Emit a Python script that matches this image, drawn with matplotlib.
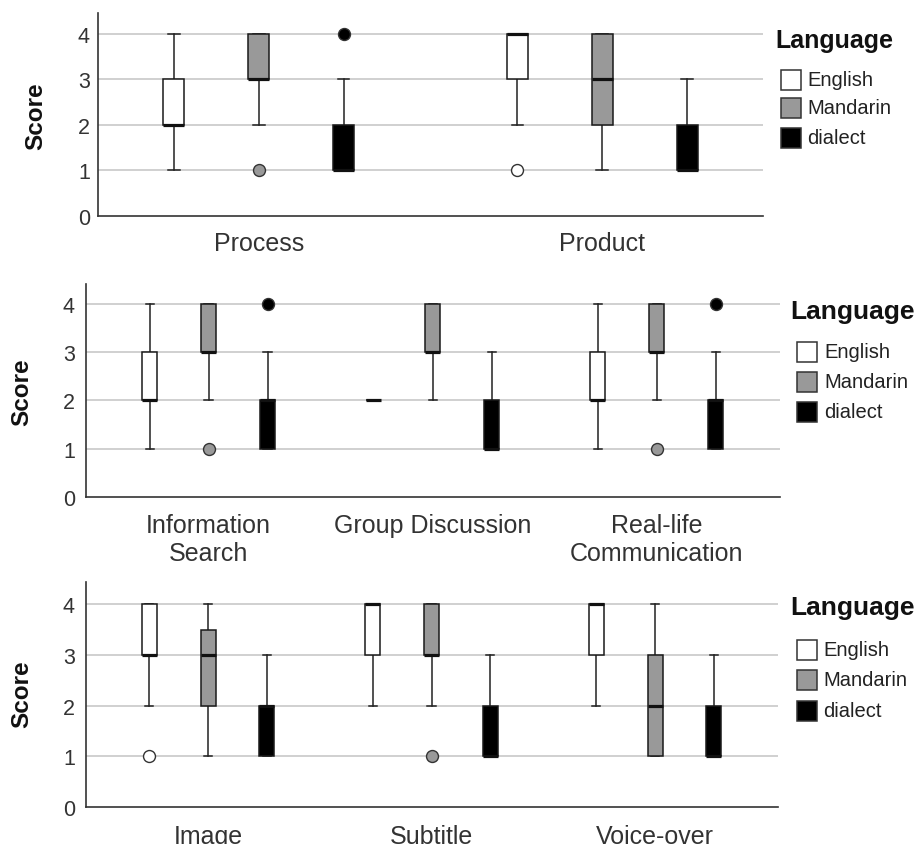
import matplotlib
matplotlib.use("Agg")
import matplotlib.pyplot as plt
from matplotlib.patches import Rectangle

plt.rcParams['font.family'] = ['Liberation Sans', 'DejaVu Sans']

W, H = 918, 845

# ---------------- data ----------------
languages = ['English', 'Mandarin', 'dialect']
lang_colors = ['#ffffff', '#999999', '#000000']

categories1 = ['Process', 'Product']
categories2 = ['Information\nSearch', 'Group Discussion', 'Real-life\nCommunication']
categories3 = ['Image', 'Subtitle', 'Voice-over']

# panel 1 (Process / Product)
p1_q1     = {'English': [2, 3], 'Mandarin': [3, 2], 'dialect': [1, 1]}
p1_med    = {'English': [2, 4], 'Mandarin': [3, 3], 'dialect': [1, 1]}
p1_q3     = {'English': [3, 4], 'Mandarin': [4, 4], 'dialect': [2, 2]}
p1_lo     = {'English': [1, 2], 'Mandarin': [2, 1], 'dialect': [1, 1]}
p1_hi     = {'English': [4, 4], 'Mandarin': [4, 4], 'dialect': [3, 3]}
p1_fliers = {'English': [[], [1]], 'Mandarin': [[1], []], 'dialect': [[4], []]}

# panel 2 (Information Search / Group Discussion / Real-life Communication)
p2_q1     = {'English': [2, 2, 2], 'Mandarin': [3, 3, 3], 'dialect': [1, 1, 1]}
p2_med    = {'English': [2, 2, 2], 'Mandarin': [3, 3, 3], 'dialect': [2, 1, 2]}
p2_q3     = {'English': [3, 2, 3], 'Mandarin': [4, 4, 4], 'dialect': [2, 2, 2]}
p2_lo     = {'English': [1, 2, 1], 'Mandarin': [2, 2, 2], 'dialect': [1, 1, 1]}
p2_hi     = {'English': [4, 2, 4], 'Mandarin': [4, 4, 4], 'dialect': [3, 3, 3]}
p2_fliers = {'English': [[], [], []], 'Mandarin': [[1], [], [1]], 'dialect': [[4], [], [4]]}

# panel 3 (Image / Subtitle / Voice-over)
p3_q1     = {'English': [3, 3, 3], 'Mandarin': [2, 3, 1], 'dialect': [1, 1, 1]}
p3_med    = {'English': [3, 4, 4], 'Mandarin': [3, 3, 2], 'dialect': [2, 1, 1]}
p3_q3     = {'English': [4, 4, 4], 'Mandarin': [3.5, 4, 3], 'dialect': [2, 2, 2]}
p3_lo     = {'English': [2, 2, 2], 'Mandarin': [1, 2, 1], 'dialect': [1, 1, 1]}
p3_hi     = {'English': [4, 4, 4], 'Mandarin': [4, 4, 4], 'dialect': [3, 3, 3]}
p3_fliers = {'English': [[1], [], []], 'Mandarin': [[], [1], []], 'dialect': [[], [], []]}

yticks = [0, 1, 2, 3, 4]
ylabel = 'Score'
legend_title = 'Language'

# ---------------- drawing ----------------
fig = plt.figure(figsize=(W / 100, H / 100), dpi=100)


def ax_rect(left, right, top, bottom):
    return [left / W, 1 - bottom / H, (right - left) / W, (bottom - top) / H]


def draw_panel(rect, cats, q1, med, q3, lo, hi, fliers, offset, width, xlim, ytop,
               ypad, xpad, ylab_xy, leg):
    ax = fig.add_axes(rect)
    for j, lang in enumerate(languages):
        stats = []
        for i in range(len(cats)):
            stats.append(dict(q1=q1[lang][i], med=med[lang][i], q3=q3[lang][i],
                              whislo=lo[lang][i], whishi=hi[lang][i],
                              fliers=fliers[lang][i]))
        pos = [i + (j - 1) * offset for i in range(len(cats))]
        ax.bxp(stats, positions=pos, widths=width, capwidths=width * 0.55,
               patch_artist=True, showfliers=True, manage_ticks=False,
               boxprops=dict(facecolor=lang_colors[j], edgecolor='#1a1a1a',
                             linewidth=1.1, zorder=3),
               medianprops=dict(color='#111111', linewidth=2.3,
                                solid_capstyle='butt', zorder=4),
               whiskerprops=dict(color='#222222', linewidth=1.1, zorder=2),
               capprops=dict(color='#222222', linewidth=1.1, zorder=2),
               flierprops=dict(marker='o', markerfacecolor=lang_colors[j],
                               markeredgecolor='#333333', markeredgewidth=1.0,
                               markersize=8.6, linestyle='none', zorder=4))
    ax.set_xlim(*xlim)
    ax.set_ylim(0, ytop)
    ax.set_yticks(yticks)
    ax.set_xticks(range(len(cats)))
    ax.set_xticklabels(cats, fontsize=18, color='#333333', linespacing=1.2)
    ax.tick_params(axis='y', length=0, pad=ypad, labelsize=15.5, labelcolor='#333333')
    ax.tick_params(axis='x', length=0, pad=xpad)
    for y in yticks[1:]:
        ax.axhline(y, color='#c4c4c4', linewidth=1.1, zorder=0)
    for s in ['top', 'right']:
        ax.spines[s].set_visible(False)
    for s in ['left', 'bottom']:
        ax.spines[s].set_color('#333333')
        ax.spines[s].set_linewidth(1.2)
    fig.text(ylab_xy[0] / W, 1 - ylab_xy[1] / H, ylabel, rotation=90,
             ha='center', va='center', fontsize=17.5, fontweight='bold', color='#111111')
    # legend
    tx, ty, tsize, px, rows, txl = leg
    fig.text(tx / W, 1 - ty / H, legend_title, ha='left', va='center',
             fontsize=tsize, fontweight='bold', color='#111111')
    for j, lang in enumerate(languages):
        cy = rows[j]
        fig.patches.append(Rectangle((px / W, 1 - (cy + 10) / H), 20 / W, 20 / H,
                                     transform=fig.transFigure, facecolor=lang_colors[j],
                                     edgecolor='#333333', linewidth=1.1))
        fig.text(txl / W, 1 - cy / H, lang, ha='left', va='center',
                 fontsize=14.5, color='#222222')
    return ax


draw_panel(ax_rect(98, 763, 14, 217), categories1,
           p1_q1, p1_med, p1_q3, p1_lo, p1_hi, p1_fliers,
           offset=0.247, width=0.061, xlim=(-0.468, 1.468), ytop=4.46,
           ypad=5.8, xpad=11.0, ylab_xy=(36, 116),
           leg=(775, 41, 18, 781, [80.5, 109, 138.5], 807))

draw_panel(ax_rect(86, 780, 285, 498), categories2,
           p2_q1, p2_med, p2_q3, p2_lo, p2_hi, p2_fliers,
           offset=0.263, width=0.067, xlim=(-0.547, 2.549), ytop=4.41,
           ypad=8.0, xpad=11.5, ylab_xy=(22, 392),
           leg=(790, 312, 19, 797, [353, 383, 413], 824))

draw_panel(ax_rect(86, 778, 583, 808), categories3,
           p3_q1, p3_med, p3_q3, p3_lo, p3_hi, p3_fliers,
           offset=0.263, width=0.067, xlim=(-0.546, 2.55), ytop=4.44,
           ypad=8.0, xpad=12.0, ylab_xy=(22, 694),
           leg=(790, 608, 19, 797, [650.5, 680.5, 711.5], 823))

fig.savefig('out.png', dpi=100)
